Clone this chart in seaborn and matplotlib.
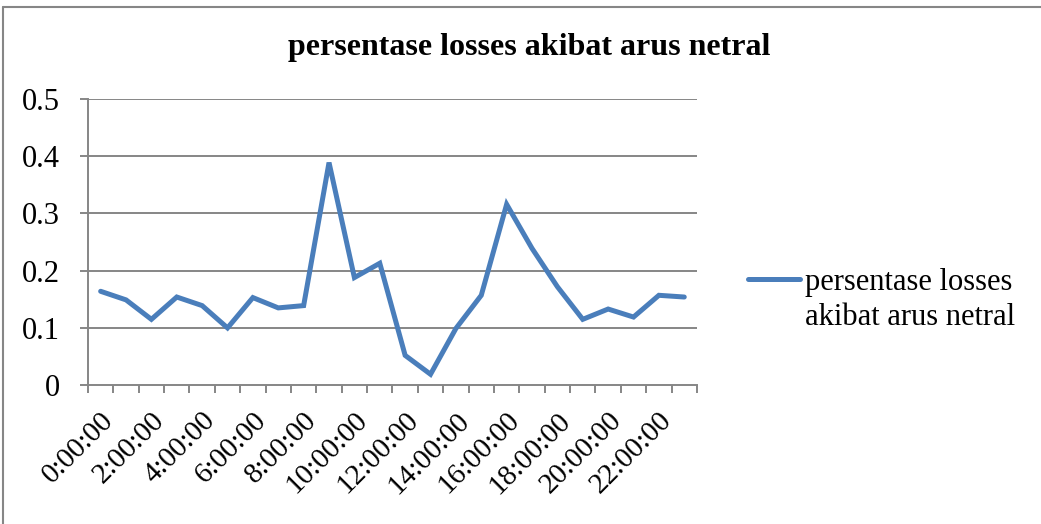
import matplotlib
matplotlib.use("Agg")
import matplotlib.pyplot as plt
import matplotlib.transforms as mtransforms
import seaborn as sns
import pandas as pd
from matplotlib.lines import Line2D

# hourly data
jam = [f"{h}:00:00" for h in range(24)]
losses = [0.164, 0.149, 0.115, 0.154, 0.139, 0.100, 0.153, 0.135, 0.139, 0.389,
          0.188, 0.213, 0.052, 0.019, 0.099, 0.157, 0.316, 0.239, 0.172, 0.115,
          0.133, 0.119, 0.157, 0.154]
y_ticks = [0, 0.1, 0.2, 0.3, 0.4, 0.5]
y_labels = ["0", "0.1", "0.2", "0.3", "0.4", "0.5"]
judul = "persentase losses akibat arus netral"
seri_baris1 = "persentase losses"
seri_baris2 = "akibat arus netral"

df = pd.DataFrame({"jam": jam, "losses": losses, "idx": range(len(jam))})

sns.set_theme(style="white")
plt.rcParams["font.family"] = ["Liberation Serif", "DejaVu Serif"]
plt.rcParams["text.color"] = "black"
plt.rcParams["xtick.color"] = "black"
plt.rcParams["ytick.color"] = "black"

abu = "#868686"
biru = "#4A7EBB"

fig = plt.figure(figsize=(10.41, 5.24), dpi=100)
ax = fig.add_axes([0.0845, 0.265, 0.585, 0.546])

sns.lineplot(data=df, x="idx", y="losses", ax=ax, color=biru,
             linewidth=3.6, legend=False, solid_capstyle="round",
             solid_joinstyle="miter")

n = len(jam)
ax.set_xlim(-0.5, n - 0.5)
ax.set_ylim(0, 0.5)
ax.set_yticks(y_ticks)
ax.set_yticklabels(y_labels, fontsize=22)
for v in y_ticks[1:]:
    ax.axhline(v, color=abu, linewidth=1.4, zorder=0)

# tick marks at category boundaries, labels every other category
ax.set_xticks([i - 0.5 for i in range(n + 1)])
ax.set_xticklabels([])
ax.set_xticks(list(range(0, n, 2)), minor=True)
ax.set_xticklabels(jam[0::2], minor=True, rotation=45, ha="right",
                   va="top", rotation_mode="anchor", fontsize=21)
geser = mtransforms.ScaledTranslation(2 / 100, 0, fig.dpi_scale_trans)
for lbl in ax.get_xticklabels(minor=True):
    lbl.set_transform(lbl.get_transform() + geser)
ax.tick_params(axis="x", which="major", direction="out", length=6,
               width=1.4, color=abu, bottom=True)
ax.tick_params(axis="x", which="minor", length=0, pad=16)
ax.tick_params(axis="y", direction="out", length=6, width=1.4,
               color=abu, left=True, pad=14)

for s in ["top", "right"]:
    ax.spines[s].set_visible(False)
for s in ["left", "bottom"]:
    ax.spines[s].set_color(abu)
    ax.spines[s].set_linewidth(1.4)

ax.set_xlabel("")
ax.set_ylabel("")

fig.text(0.508, 0.91, judul, ha="center", va="center", fontsize=23,
         fontweight="bold")

# legend: handle next to first line, second line of text underneath
handle = Line2D([], [], color=biru, linewidth=3.6, solid_capstyle="round")
leg = ax.legend([handle], [seri_baris1], loc="center left",
                bbox_to_anchor=(1.084, 0.36), frameon=False, fontsize=22,
                handlelength=1.7, handletextpad=0.15, borderpad=0,
                borderaxespad=0)
fig.canvas.draw()
bb = leg.get_texts()[0].get_window_extent().transformed(fig.transFigure.inverted())
fig.text(bb.x0, bb.y0 - 0.012, seri_baris2, ha="left", va="top", fontsize=22)

# chart area border (left and top edges visible)
fig.add_artist(Line2D([0.003, 0.003], [0, 0.987], color=abu, linewidth=1.5,
                      transform=fig.transFigure))
fig.add_artist(Line2D([0.003, 1.0], [0.987, 0.987], color=abu, linewidth=1.5,
                      transform=fig.transFigure))

fig.savefig("out.png", dpi=100, facecolor="white")
